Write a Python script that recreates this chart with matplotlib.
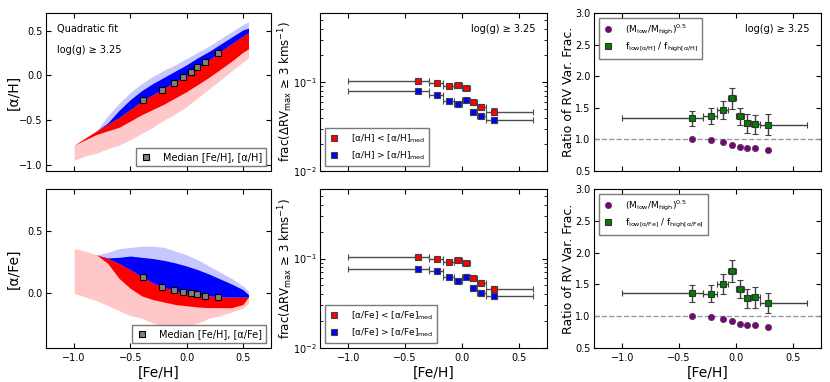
import matplotlib
matplotlib.use('Agg')
import matplotlib.pyplot as plt
import numpy as np

plt.rcParams['font.family'] = ['DejaVu Sans']
plt.rcParams['mathtext.fontset'] = 'dejavusans'
plt.rcParams['xtick.direction'] = 'in'
plt.rcParams['ytick.direction'] = 'in'
plt.rcParams['xtick.top'] = True
plt.rcParams['ytick.right'] = True
plt.rcParams['xtick.labelsize'] = 7
plt.rcParams['ytick.labelsize'] = 7
plt.rcParams['ytick.major.pad'] = 2.5

# ---- data ----
feh_grid = [-1.0, -0.9, -0.8, -0.7, -0.6, -0.5, -0.4, -0.3, -0.2, -0.1,
            0.0, 0.1, 0.2, 0.3, 0.4, 0.5, 0.55]

# [alpha/H] cloud envelopes
ah_fit = [-0.78, -0.70, -0.62, -0.545, -0.47, -0.38, -0.29, -0.215, -0.145, -0.07,
          0.005, 0.09, 0.175, 0.27, 0.355, 0.44, 0.48]
ah_blue_dense = [-0.78, -0.70, -0.62, -0.53, -0.39, -0.27, -0.17, -0.09, -0.02, 0.05,
                 0.12, 0.20, 0.27, 0.35, 0.43, 0.51, 0.53]
ah_blue_sparse = [-0.78, -0.70, -0.62, -0.45, -0.31, -0.19, -0.09, -0.01, 0.06, 0.12,
                  0.19, 0.26, 0.33, 0.41, 0.49, 0.57, 0.60]
ah_red_dense = [-0.78, -0.72, -0.66, -0.62, -0.58, -0.51, -0.44, -0.38, -0.32, -0.25,
                -0.18, -0.10, -0.02, 0.07, 0.16, 0.26, 0.30]
ah_red_sparse = [-0.95, -0.90, -0.87, -0.82, -0.78, -0.72, -0.65, -0.58, -0.50, -0.43,
                 -0.35, -0.25, -0.15, -0.05, 0.05, 0.15, 0.20]

# [alpha/Fe] cloud envelopes
afe_fit = [0.36, 0.34, 0.31, 0.28, 0.24, 0.19, 0.135, 0.085, 0.048, 0.02,
           0.003, -0.01, -0.02, -0.028, -0.03, -0.03, -0.03]
afe_blue_dense = [0.36, 0.34, 0.31, 0.285, 0.29, 0.30, 0.29, 0.28, 0.265, 0.245,
                  0.22, 0.19, 0.155, 0.115, 0.075, 0.03, -0.01]
afe_blue_sparse = [0.36, 0.34, 0.31, 0.33, 0.36, 0.37, 0.38, 0.38, 0.37, 0.34,
                   0.31, 0.27, 0.22, 0.17, 0.12, 0.06, 0.02]
afe_red_dense = [0.36, 0.34, 0.31, 0.24, 0.12, 0.04, -0.02, -0.05, -0.07, -0.09,
                 -0.10, -0.11, -0.115, -0.115, -0.115, -0.09, -0.03]
afe_red_sparse = [0.00, -0.03, -0.06, -0.10, -0.14, -0.18, -0.20, -0.24, -0.26, -0.27,
                  -0.26, -0.24, -0.20, -0.18, -0.15, -0.12, -0.08]

# binned medians
feh_med = [-0.39, -0.215, -0.115, -0.035, 0.035, 0.095, 0.167, 0.28]
bin_edges = [-1.0, -0.29, -0.17, -0.07, 0.0, 0.07, 0.13, 0.21, 0.63]
ah_med = [-0.28, -0.157, -0.082, -0.019, 0.037, 0.09, 0.153, 0.257]
afe_med = [0.129, 0.051, 0.027, 0.011, 0.0, -0.008, -0.019, -0.032]

# variability fractions
frac_lo_ah = [0.104, 0.099, 0.0894, 0.0934, 0.0857, 0.0592, 0.0521, 0.0466]
frac_hi_ah = [0.0786, 0.0715, 0.0618, 0.0567, 0.0629, 0.0466, 0.042, 0.0379]
frac_lo_afe = [0.1053, 0.0983, 0.0925, 0.0958, 0.0894, 0.0605, 0.054, 0.0459]
frac_hi_afe = [0.0765, 0.0733, 0.0616, 0.056, 0.0621, 0.0471, 0.041, 0.0379]
frac_err_lo = [0.004, 0.004, 0.004, 0.004, 0.004, 0.004, 0.004, 0.004]
frac_err_hi = [0.003, 0.003, 0.003, 0.003, 0.003, 0.003, 0.003, 0.003]

# ratios
mass_ratio = [1.01, 0.987, 0.958, 0.918, 0.885, 0.868, 0.858, 0.838]
ratio_ah = [1.337, 1.368, 1.463, 1.653, 1.363, 1.258, 1.242, 1.232]
ratio_ah_err = [0.12, 0.13, 0.14, 0.165, 0.14, 0.15, 0.15, 0.165]
ratio_afe = [1.361, 1.356, 1.508, 1.712, 1.424, 1.283, 1.298, 1.204]
ratio_afe_err = [0.13, 0.14, 0.16, 0.17, 0.145, 0.15, 0.165, 0.16]

xerr = [np.array(feh_med) - np.array(bin_edges[:-1]),
        np.array(bin_edges[1:]) - np.array(feh_med)]

fig = plt.figure(figsize=(8.3, 3.82), dpi=100)
W, H = 830.0, 382.0


def axes_px(left, top, right, bottom):
    return fig.add_axes([left / W, 1 - bottom / H, (right - left) / W, (bottom - top) / H])


lefts = [46, 320, 594]
rights = [271, 547, 821]
rows = [(13, 171), (189, 348)]
label_x = [-0.115, -0.11, -0.085]

ax = [[axes_px(lefts[c], rows[r][0], rights[c], rows[r][1]) for c in range(3)] for r in range(2)]


def cloud(a, fit, bd, bs, rd, rs):
    a.fill_between(feh_grid, rs, fit, color='red', alpha=0.22, lw=0)
    a.fill_between(feh_grid, rd, fit, color='red', lw=0)
    a.fill_between(feh_grid, fit, bs, color='blue', alpha=0.22, lw=0)
    a.fill_between(feh_grid, fit, bd, color='blue', lw=0)


def boxed(leg):
    leg.get_frame().set_edgecolor('0.35')
    leg.get_frame().set_linewidth(1.0)


# left column
cloud(ax[0][0], ah_fit, ah_blue_dense, ah_blue_sparse, ah_red_dense, ah_red_sparse)
ax[0][0].plot(feh_med, ah_med, 's', color='0.5', mec='k', mew=0.8, ms=4,
              label='Median [Fe/H], [α/H]')
ax[0][0].set_ylim(-1.07, 0.7)
ax[0][0].set_yticks([-1.0, -0.5, 0.0, 0.5])
ax[0][0].set_ylabel('[α/H]', fontsize=10)
ax[0][0].text(0.05, 0.93, 'Quadratic fit', transform=ax[0][0].transAxes, fontsize=7, va='top')
ax[0][0].text(0.05, 0.80, 'log(g) ≥ 3.25', transform=ax[0][0].transAxes, fontsize=7, va='top')

cloud(ax[1][0], afe_fit, afe_blue_dense, afe_blue_sparse, afe_red_dense, afe_red_sparse)
ax[1][0].plot(feh_med, afe_med, 's', color='0.5', mec='k', mew=0.8, ms=4,
              label='Median [Fe/H], [α/Fe]')
ax[1][0].set_ylim(-0.44, 0.84)
ax[1][0].set_yticks([0.0, 0.5])
ax[1][0].set_ylabel('[α/Fe]', fontsize=10)

for a in (ax[0][0], ax[1][0]):
    boxed(a.legend(loc='lower right', fontsize=7, fancybox=False, handletextpad=1.2,
                   borderpad=0.4, handlelength=1.2))

# middle column
mid_sets = [(frac_lo_ah, frac_hi_ah, 'α/H'), (frac_lo_afe, frac_hi_afe, 'α/Fe')]
for r, (flo, fhi, tag) in enumerate(mid_sets):
    a = ax[r][1]
    e1 = a.errorbar(feh_med, flo, xerr=xerr, yerr=frac_err_lo, fmt='s', color='red',
                    mec='0.25', mew=0.8, ms=4.5, ecolor='0.3', elinewidth=1, capsize=2)
    e2 = a.errorbar(feh_med, fhi, xerr=xerr, yerr=frac_err_hi, fmt='s', color='blue',
                    mec='0.25', mew=0.8, ms=4.5, ecolor='0.3', elinewidth=1, capsize=2)
    a.set_yscale('log')
    a.set_ylim(0.01, 0.6)
    a.set_ylabel('frac(ΔRV$_{\\rm max}$ ≥ 3 kms$^{-1}$)', fontsize=8.5)
    boxed(a.legend([e1[0], e2[0]],
                   ['[%s] < [%s]$_{\\rm med}$' % (tag, tag),
                    '[%s] > [%s]$_{\\rm med}$' % (tag, tag)],
                   loc='lower left', fontsize=6.5, fancybox=False, numpoints=1,
                   handletextpad=1.2, handlelength=1.2, borderpad=0.5))
ax[0][1].text(0.95, 0.93, 'log(g) ≥ 3.25', transform=ax[0][1].transAxes, fontsize=7,
              va='top', ha='right')

# right column
right_sets = [(ratio_ah, ratio_ah_err, 'α/H'), (ratio_afe, ratio_afe_err, 'α/Fe')]
for r, (rat, rerr, tag) in enumerate(right_sets):
    a = ax[r][2]
    a.axhline(1.0, color='0.6', ls='--', lw=1)
    m1, = a.plot(feh_med, mass_ratio, 'o', color='purple', mec='0.25', mew=0.5, ms=4.5)
    e1 = a.errorbar(feh_med, rat, xerr=xerr, yerr=rerr, fmt='s', color='green',
                    mec='0.2', mew=0.8, ms=5, ecolor='0.25', elinewidth=1, capsize=2)
    a.set_ylim(0.5, 3.0)
    a.set_yticks([0.5, 1.0, 1.5, 2.0, 2.5, 3.0])
    a.set_ylabel('Ratio of RV Var. Frac.', fontsize=9)
    boxed(a.legend([m1, e1[0]],
                   ['(M$_{\\rm low}$/M$_{\\rm high}$)$^{0.5}$',
                    'f$_{\\rm low[%s]}$ / f$_{\\rm high[%s]}$' % (tag, tag)],
                   loc='upper left', fontsize=6.5, fancybox=False, numpoints=1,
                   handletextpad=1.2, handlelength=1.2, borderpad=0.5))
ax[0][2].text(0.95, 0.93, 'log(g) ≥ 3.25', transform=ax[0][2].transAxes, fontsize=7,
              va='top', ha='right')

for r in range(2):
    for c in range(3):
        a = ax[r][c]
        a.set_xlim(-1.25, 0.75)
        a.set_xticks([-1.0, -0.5, 0.0, 0.5])
        a.yaxis.set_label_coords(label_x[c], 0.5)
        if r == 0:
            a.set_xticklabels([])
        else:
            a.set_xlabel('[Fe/H]', fontsize=10, labelpad=2)

fig.savefig('out.png', dpi=100)
